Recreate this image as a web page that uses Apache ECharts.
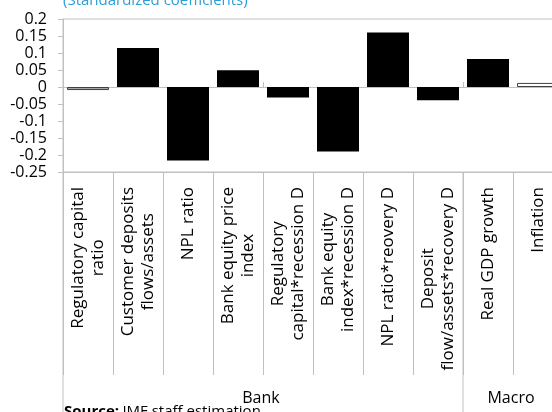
<!DOCTYPE html>
<html><head><meta charset="utf-8">
<script src="https://cdn.jsdelivr.net/npm/echarts@6/dist/echarts.min.js"></script>
<style>html,body{margin:0;padding:0;background:#fff}#c{width:552px;height:412px}</style>
</head><body><div id="c"></div>
<script>
const categories = ['Regulatory capital\nratio', 'Customer deposits\nflows/assets', 'NPL ratio', 'Bank equity price\nindex', 'Regulatory\ncapital*recession D', 'Bank equity\nindex*recession D', 'NPL ratio*reovery D', 'Deposit\nflow/assets*recovery D', 'Real GDP growth', 'Inflation'];
const values = [-0.009, 0.115, -0.216, 0.049, -0.031, -0.190, 0.160, -0.039, 0.082, 0.012];
const fills = ['#a6a6a6', '#000000', '#000000', '#000000', '#000000', '#000000', '#000000', '#000000', '#000000', '#ffffff'];
const groups = ['Bank', 'Macro'];
const groupSpans = [8, 2];
const yMin = -0.25, yMax = 0.2, yStep = 0.05;
const subtitle = '(Standardized coefficients)';
const sourceText = 'IMF staff estimation';

const FONT = '"Open Sans", sans-serif';
const GREY = '#c0c0c0';
const chart = echarts.init(document.getElementById('c'), null, {renderer: 'canvas'});

const option = {
  animation: false,
  backgroundColor: '#fff',
  textStyle: {fontFamily: FONT},
  grid: {left: 63, top: 19, width: 500, height: 153, show: true, borderColor: GREY, borderWidth: 1, containLabel: false, outerBoundsMode: 'none'},
  yAxis: {
    type: 'value', min: yMin, max: yMax, interval: yStep,
    axisLine: {show: true, lineStyle: {color: GREY}},
    axisTick: {show: true, length: 5, lineStyle: {color: GREY}},
    splitLine: {show: false},
    axisLabel: {color: '#000', fontSize: 16, fontFamily: FONT, margin: 16}
  },
  xAxis: [
    {
      type: 'category', data: categories, position: 'top',
      axisLine: {onZero: true, lineStyle: {color: GREY}},
      axisTick: {show: true, inside: false, length: 5, lineStyle: {color: GREY}},
      axisLabel: {show: false}
    },
    {
      type: 'category', data: categories, position: 'bottom',
      axisLine: {onZero: false, lineStyle: {color: GREY}},
      axisTick: {show: true, length: 203, lineStyle: {color: GREY}},
      axisLabel: {
        rotate: 90, margin: 15, color: '#000', fontFamily: FONT, fontSize: 17, interval: 0,
        formatter: v => v.split('\n').map(s => '{a|' + s + '}').join('\n'),
        rich: {a: {align: 'center', fontSize: 17, lineHeight: 20, fontFamily: FONT, color: '#000'}}
      }
    }
  ],
  series: [{
    type: 'bar', xAxisIndex: 1, barCategoryGap: '16%',
    data: values.map((v, i) => ({value: v, itemStyle: {color: fills[i], borderColor: i === 0 || i === 9 ? '#404040' : '#000', borderWidth: i === 0 || i === 9 ? 1 : 0}}))
  }]
};
chart.setOption(option);

const p0 = chart.convertToPixel({xAxisIndex: 1}, 0);
const p1 = chart.convertToPixel({xAxisIndex: 1}, 1);
const bw = p1 - p0;
const leftEdge = p0 - bw / 2;
const yBottom = chart.convertToPixel({yAxisIndex: 0}, yMin);
const yTop = chart.convertToPixel({yAxisIndex: 0}, yMax);
const graphics = [];
graphics.push({type: 'line', shape: {x1: leftEdge, y1: yBottom, x2: leftEdge, y2: 412}, style: {stroke: GREY, lineWidth: 1}});
let acc = 0;
groups.forEach((g, i) => {
  const start = leftEdge + acc * bw;
  acc += groupSpans[i];
  const end = leftEdge + acc * bw;
  const center = (start + end) / 2;
  graphics.push({type: 'text', x: center - 2, y: 398, style: {text: g, fontFamily: FONT, fontSize: 16, fill: '#000', align: 'center', verticalAlign: 'middle'}});
  if (i < groups.length - 1) {
    graphics.push({type: 'line', shape: {x1: end, y1: yBottom, x2: end, y2: 412}, style: {stroke: GREY, lineWidth: 1}});
  }
});
graphics.push({type: 'text', x: leftEdge, y: yTop - 11, style: {text: subtitle, fontFamily: FONT, fontSize: 15, fill: '#2b9fd8', align: 'left', verticalAlign: 'bottom'}});
graphics.push({type: 'text', x: leftEdge + 1, y: 404, style: {
  text: '{b|Source:} {n|' + sourceText + '}', align: 'left', verticalAlign: 'top',
  rich: {b: {fontFamily: FONT, fontSize: 15, fontWeight: 'bold', fill: '#000'}, n: {fontFamily: FONT, fontSize: 15, fill: '#000'}}
}});
chart.setOption({graphic: graphics});
</script></body></html>
